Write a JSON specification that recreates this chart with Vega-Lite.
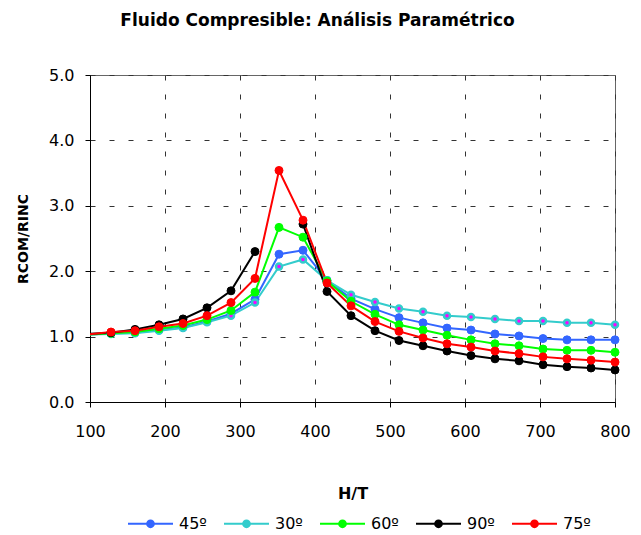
{
  "$schema": "https://vega.github.io/schema/vega-lite/v6.json",
  "width": 525,
  "height": 327,
  "autosize": {"type": "none"},
  "padding": {"left": 90, "top": 75, "right": 26, "bottom": 133},
  "background": "white",
  "title": {
    "text": "Fluido Compresible: Análisis Paramétrico",
    "font": "DejaVu Sans",
    "fontSize": 17,
    "fontWeight": "bold",
    "color": "#000000",
    "anchor": "middle",
    "frame": "group",
    "dx": -35,
    "offset": 24,
    "baseline": "alphabetic"
  },
  "data": {
    "values": [
      {"H": 96, "45º": 1.03, "30º": 1.03, "60º": 1.03, "90º": 1.04, "75º": 1.03},
      {"H": 128, "45º": 1.05, "30º": 1.04, "60º": 1.05, "90º": 1.06, "75º": 1.07},
      {"H": 160, "45º": 1.06, "30º": 1.05, "60º": 1.07, "90º": 1.11, "75º": 1.09},
      {"H": 192, "45º": 1.10, "30º": 1.09, "60º": 1.12, "90º": 1.18, "75º": 1.15},
      {"H": 224, "45º": 1.14, "30º": 1.13, "60º": 1.17, "90º": 1.27, "75º": 1.20},
      {"H": 256, "45º": 1.23, "30º": 1.22, "60º": 1.26, "90º": 1.44, "75º": 1.32},
      {"H": 288, "45º": 1.35, "30º": 1.32, "60º": 1.40, "90º": 1.70, "75º": 1.52},
      {"H": 320, "45º": 1.57, "30º": 1.52, "60º": 1.68, "90º": 2.30, "75º": 1.89},
      {"H": 352, "45º": 2.26, "30º": 2.07, "60º": 2.67, "90º": null, "75º": 3.54},
      {"H": 384, "45º": 2.32, "30º": 2.18, "60º": 2.52, "90º": 2.72, "75º": 2.78},
      {"H": 416, "45º": 1.86, "30º": 1.86, "60º": 1.85, "90º": 1.69, "75º": 1.82},
      {"H": 448, "45º": 1.58, "30º": 1.64, "60º": 1.54, "90º": 1.32, "75º": 1.47},
      {"H": 480, "45º": 1.42, "30º": 1.53, "60º": 1.34, "90º": 1.09, "75º": 1.23},
      {"H": 512, "45º": 1.29, "30º": 1.43, "60º": 1.18, "90º": 0.94, "75º": 1.08},
      {"H": 544, "45º": 1.21, "30º": 1.38, "60º": 1.10, "90º": 0.86, "75º": 0.98},
      {"H": 576, "45º": 1.13, "30º": 1.32, "60º": 1.02, "90º": 0.78, "75º": 0.89},
      {"H": 608, "45º": 1.10, "30º": 1.30, "60º": 0.95, "90º": 0.71, "75º": 0.84},
      {"H": 640, "45º": 1.04, "30º": 1.27, "60º": 0.89, "90º": 0.66, "75º": 0.78},
      {"H": 672, "45º": 1.01, "30º": 1.24, "60º": 0.86, "90º": 0.63, "75º": 0.74},
      {"H": 704, "45º": 0.97, "30º": 1.24, "60º": 0.81, "90º": 0.57, "75º": 0.69},
      {"H": 736, "45º": 0.95, "30º": 1.21, "60º": 0.79, "90º": 0.54, "75º": 0.66},
      {"H": 768, "45º": 0.95, "30º": 1.21, "60º": 0.79, "90º": 0.52, "75º": 0.64},
      {"H": 800, "45º": 0.95, "30º": 1.18, "60º": 0.76, "90º": 0.49, "75º": 0.61}
    ]
  },
  "transform": [
    {"fold": ["45º", "30º", "60º", "90º", "75º"], "as": ["Serie", "R"]}
  ],
  "encoding": {
    "x": {
      "field": "H",
      "type": "quantitative",
      "scale": {"domain": [100, 800], "nice": false, "zero": false},
      "axis": {
        "values": [100, 200, 300, 400, 500, 600, 700, 800],
        "title": "H/T",
        "labelPadding": 16,
        "titlePadding": 46,
        "titleFontSize": 16
      }
    },
    "y": {
      "field": "R",
      "type": "quantitative",
      "scale": {"domain": [0, 5], "nice": false, "zero": false},
      "axis": {
        "values": [0, 1, 2, 3, 4, 5],
        "format": ".1f",
        "title": "RCOM/RINC",
        "labelPadding": 11,
        "titlePadding": 18,
        "titleFontSize": 14
      }
    }
  },
  "layer": [
    {
      "mark": {"type": "line", "strokeWidth": 2, "clip": true, "invalid": "break-paths-filter-domains"},
      "encoding": {
        "color": {
          "field": "Serie",
          "type": "nominal",
          "scale": {
            "domain": ["45º", "30º", "60º", "90º", "75º"],
            "range": ["#3366FF", "#33CCCC", "#00FF00", "#000000", "#FF0000"]
          },
          "legend": {
            "title": null,
            "orient": "none",
            "legendX": 37,
            "legendY": 425,
            "direction": "horizontal",
            "columns": 5,
            "padding": 0,
            "symbolType": "M-1,0L1,0M0.15,0A0.15,0.15,0,1,1,-0.15,0A0.15,0.15,0,1,1,0.15,0Z",
            "symbolSize": 2025,
            "symbolStrokeWidth": 2,
            "labelOffset": 5,
            "columnPadding": 13,
            "labelFont": "DejaVu Sans",
            "labelFontSize": 16,
            "labelColor": "#000000",
            "encode": {
              "symbols": {
                "update": {
                  "fill": [
                    {"test": "datum.value === '30º'", "value": "#FF00FF"},
                    {"scale": "color", "field": "value"}
                  ],
                  "stroke": {"scale": "color", "field": "value"},
                  "opacity": {"value": 1}
                }
              }
            }
          }
        }
      }
    },
    {
      "transform": [{"filter": "datum.H >= 100 && isValid(datum.R)"}],
      "mark": {"type": "point", "filled": true, "opacity": 1, "shape": "circle"},
      "encoding": {
        "fill": {
          "condition": {"test": "datum.Serie === '30º'", "value": "#FF00FF"},
          "field": "Serie",
          "type": "nominal",
          "scale": {
            "domain": ["45º", "30º", "60º", "90º", "75º"],
            "range": ["#3366FF", "#33CCCC", "#00FF00", "#000000", "#FF0000"]
          },
          "legend": null
        },
        "stroke": {
          "field": "Serie",
          "type": "nominal",
          "scale": {
            "domain": ["45º", "30º", "60º", "90º", "75º"],
            "range": ["#3366FF", "#33CCCC", "#00FF00", "#000000", "#FF0000"]
          },
          "legend": null
        },
        "size": {
          "condition": {"test": "datum.Serie === '30º'", "value": 36},
          "value": 64
        },
        "strokeWidth": {
          "condition": {"test": "datum.Serie === '30º'", "value": 2.5},
          "value": 1
        }
      }
    }
  ],
  "config": {
    "view": {"stroke": "#666666", "strokeWidth": 1},
    "axis": {
      "grid": true,
      "gridDash": [5, 14],
      "gridColor": "#333333",
      "gridWidth": 1,
      "gridOpacity": 1,
      "domainColor": "#000000",
      "domainWidth": 1,
      "tickColor": "#000000",
      "tickSize": 5,
      "tickWidth": 1,
      "labelFont": "DejaVu Sans",
      "labelFontSize": 16,
      "labelColor": "#000000",
      "labelFlush": false,
      "labelOverlap": false,
      "titleFont": "DejaVu Sans",
      "titleFontWeight": "bold",
      "titleColor": "#000000"
    }
  }
}
